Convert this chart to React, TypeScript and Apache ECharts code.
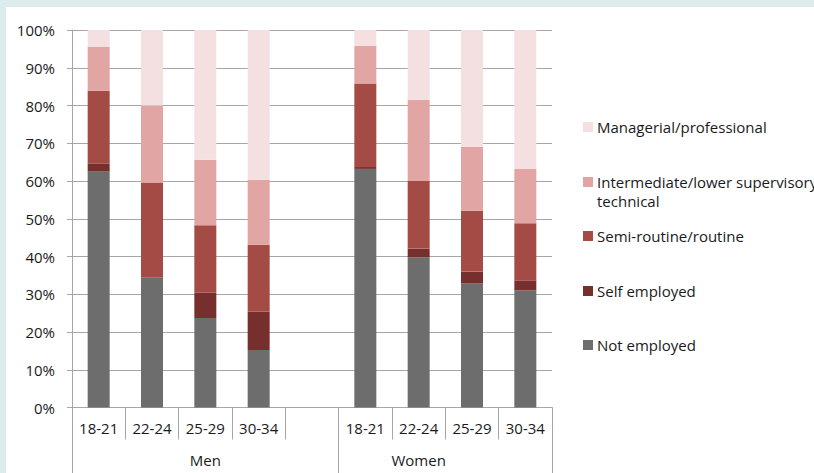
import React, { useEffect, useRef } from "react";
import * as echarts from "echarts";

const ageLabels = ["18-21", "22-24", "25-29", "30-34", "", "18-21", "22-24", "25-29", "30-34"];
const groupLabels = ["Men", "Women"];
const yTicks = [0, 10, 20, 30, 40, 50, 60, 70, 80, 90, 100];

const seriesNames = [
  "Not employed",
  "Self employed",
  "Semi-routine/routine",
  "Intermediate/lower supervisory/technical",
  "Managerial/professional",
];

const notEmployed = [62.5, 34.5, 23.7, 15.2, null, 63.2, 39.8, 32.9, 31.0];
const selfEmployed = [2.1, 0, 6.8, 10.2, null, 0.5, 2.3, 3.1, 2.6];
const semiRoutine = [19.3, 25.0, 17.8, 17.7, null, 22.1, 17.9, 16.1, 15.2];
const intermediate = [11.6, 20.5, 17.3, 17.2, null, 10.0, 21.5, 17.0, 14.4];
const managerial = [4.5, 20.0, 34.4, 39.7, null, 4.2, 18.5, 30.9, 36.8];

const colors = ["#6d6d6d", "#772f2d", "#a44b45", "#e1a5a3", "#f4e0e0"];
const FONT = "'Open Sans', sans-serif";
const TXT = "#1a1a1a";
const FS = 15;

export default function App() {
  const ref = useRef<HTMLDivElement>(null);
  useEffect(() => {
    document.body.style.margin = "0";
    const chart = echarts.init(ref.current!, null, { renderer: "svg" });
    const values = [notEmployed, selfEmployed, semiRoutine, intermediate, managerial];
    const legendItems = [
      { label: "Managerial/professional", y: 127, c: 4 },
      { label: "Intermediate/lower supervisory/\ntechnical", y: 182, c: 3 },
      { label: "Semi-routine/routine", y: 236, c: 2 },
      { label: "Self employed", y: 291, c: 1 },
      { label: "Not employed", y: 345, c: 0 },
    ];
    const graphics: any[] = [
      { type: "rect", shape: { x: 6, y: 7, width: 808, height: 466 }, style: { fill: "#ffffff" }, z: -10, silent: true },
    ];
    legendItems.forEach((it) => {
      graphics.push({
        type: "rect",
        shape: { x: 583, y: it.y - 5, width: 10, height: 10 },
        style: { fill: colors[it.c] },
      });
      graphics.push({
        type: "text",
        x: 597,
        y: it.y - 10,
        style: {
          text: it.label,
          fill: TXT,
          font: `${FS}px ${FONT}`,
          lineHeight: 19,
          textVerticalAlign: "top",
        },
      });
    });
    chart.setOption({
      animation: false,
      backgroundColor: "#dcecec",
      textStyle: { fontFamily: FONT },
      graphic: graphics,
      grid: { left: 72, top: 30, right: 262, bottom: 65.5, containLabel: false },
      xAxis: [
        {
          type: "category",
          data: ageLabels,
          axisLine: { show: true, lineStyle: { color: "#a6a6a6", width: 1 } },
          axisTick: { show: true, length: 32, lineStyle: { color: "#a6a6a6" } },
          axisLabel: { color: TXT, fontSize: FS, fontFamily: FONT, margin: 13, interval: 0 },
          splitLine: { show: false },
        },
        {
          type: "value",
          position: "bottom",
          min: 0,
          max: 9,
          axisLine: { show: false },
          splitLine: { show: false },
          axisTick: {
            show: true,
            length: 66,
            customValues: [0, 5, 9],
            lineStyle: { color: "#a6a6a6" },
          },
          axisLabel: {
            show: true,
            customValues: [2.5, 6.5],
            formatter: (v: number) => (v < 5 ? groupLabels[0] : groupLabels[1]),
            color: TXT,
            fontSize: FS,
            fontFamily: FONT,
            margin: 45,
          },
        },
      ],
      yAxis: {
        type: "value",
        min: 0,
        max: 100,
        interval: 10,
        axisLine: { show: true, lineStyle: { color: "#a6a6a6" } },
        axisTick: { show: true, length: 5, lineStyle: { color: "#a6a6a6" } },
        axisLabel: {
          formatter: (v: number) => (yTicks.includes(v) ? `${v}%` : ""),
          color: TXT,
          fontSize: FS,
          fontFamily: FONT,
          margin: 17,
        },
        splitLine: { show: true, lineStyle: { color: "#a6a6a6", width: 1 } },
      },
      series: seriesNames.map((name, i) => ({
        name,
        type: "bar",
        stack: "total",
        xAxisIndex: 0,
        barWidth: 22,
        data: values[i],
        itemStyle: { color: colors[i] },
      })),
    });
    return () => chart.dispose();
  }, []);
  return <div ref={ref} style={{ width: 814, height: 473 }} />;
}
